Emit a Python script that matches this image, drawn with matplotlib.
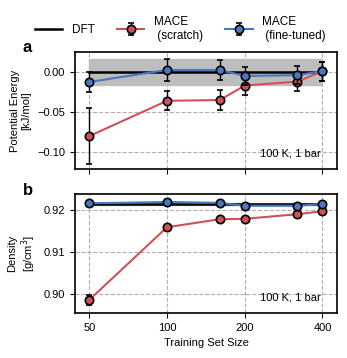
import numpy as np
import matplotlib.pyplot as plt

plt.rcParams['font.family'] = ['Liberation Sans', 'DejaVu Sans']
plt.rcParams['font.size'] = 8

# training set sizes
sizes = [50, 100, 160, 200, 320, 400]

# potential energy (kJ/mol), relative to DFT
dft_pe = 0.0
dft_pe_err = 0.0165
scratch_pe = [-0.080, -0.036, -0.035, -0.017, -0.012, 0.001]
scratch_pe_err = [0.035, 0.012, 0.013, 0.012, 0.012, 0.012]
tuned_pe = [-0.0125, 0.0025, 0.0025, -0.005, -0.004, 0.001]
tuned_pe_err = [0.013, 0.014, 0.013, 0.011, 0.011, 0.012]

# density (g/cm^3)
dft_rho = 0.9214
dft_rho_err = 0.0003
scratch_rho = [0.8986, 0.9159, 0.9178, 0.9179, 0.9190, 0.9197]
scratch_rho_err = [0.0012, 0.0004, 0.0004, 0.0004, 0.0004, 0.0004]
tuned_rho = [0.9216, 0.9219, 0.9217, 0.9210, 0.9210, 0.9214]
tuned_rho_err = [0.0003, 0.0003, 0.0003, 0.0003, 0.0003, 0.0003]

red = '#d0505a'
blue = '#4a78c0'

fig = plt.figure(figsize=(3.47, 3.58), dpi=100)
ax1 = fig.add_axes([0.216, 0.528, 0.755, 0.327])
ax2 = fig.add_axes([0.216, 0.126, 0.755, 0.332])


def panel(ax, dft, dft_err, scr, scr_err, tun, tun_err):
    ax.fill_between(sizes, dft - dft_err, dft + dft_err, color='#bdbdbd', zorder=1)
    ax.plot(sizes, [dft] * len(sizes), color='black', lw=1.8, zorder=2, label='DFT')
    ax.errorbar(sizes, scr, yerr=scr_err, color=red, lw=1.5, marker='o', ms=6,
                mfc=red, mec='black', mew=1.2, ecolor='black', elinewidth=1,
                capsize=2.5, zorder=3, label='MACE\n (scratch)')
    ax.errorbar(sizes, tun, yerr=tun_err, color=blue, lw=1.5, marker='o', ms=6,
                mfc=blue, mec='black', mew=1.2, ecolor='black', elinewidth=1,
                capsize=2.5, zorder=4, label='MACE\n (fine-tuned)')
    ax.set_xscale('log')
    ax.set_xticks([50, 100, 200, 400])
    ax.minorticks_off()
    ax.set_xlim(44, 455)
    ax.grid(True, ls='--', color='#b0b0b0', lw=0.8)
    ax.set_axisbelow(True)
    ax.text(0.94, 0.13, '100 K, 1 bar', transform=ax.transAxes, ha='right', va='center')
    for s in ax.spines.values():
        s.set_linewidth(1.2)


panel(ax1, dft_pe, dft_pe_err, scratch_pe, scratch_pe_err, tuned_pe, tuned_pe_err)
panel(ax2, dft_rho, dft_rho_err, scratch_rho, scratch_rho_err, tuned_rho, tuned_rho_err)

ax1.set_ylim(-0.121, 0.025)
ax1.set_yticks([-0.10, -0.05, 0.00])
ax1.set_yticklabels(['\u22120.10', '\u22120.05', '0.00'])
ax1.set_xticklabels([])
ax1.set_ylabel('Potential Energy\n[kJ/mol]')

ax2.set_ylim(0.8955, 0.9238)
ax2.set_yticks([0.90, 0.91, 0.92])
ax2.set_yticklabels(['0.90', '0.91', '0.92'])
ax2.set_xticklabels(['50', '100', '200', '400'])
ax2.set_xlabel('Training Set Size')
ax2.set_ylabel('Density\n[g/cm$^3$]')

fig.text(0.065, 0.855, 'a', fontsize=12, fontweight='bold')
fig.text(0.065, 0.455, 'b', fontsize=12, fontweight='bold')

h, l = ax1.get_legend_handles_labels()
fig.legend(h, l, loc='upper center', bbox_to_anchor=(0.52, 0.985), ncol=3,
           frameon=False, handlelength=2.3, handletextpad=0.8, columnspacing=1.9,
           fontsize=8.5)

fig.savefig('out.png', dpi=100)
